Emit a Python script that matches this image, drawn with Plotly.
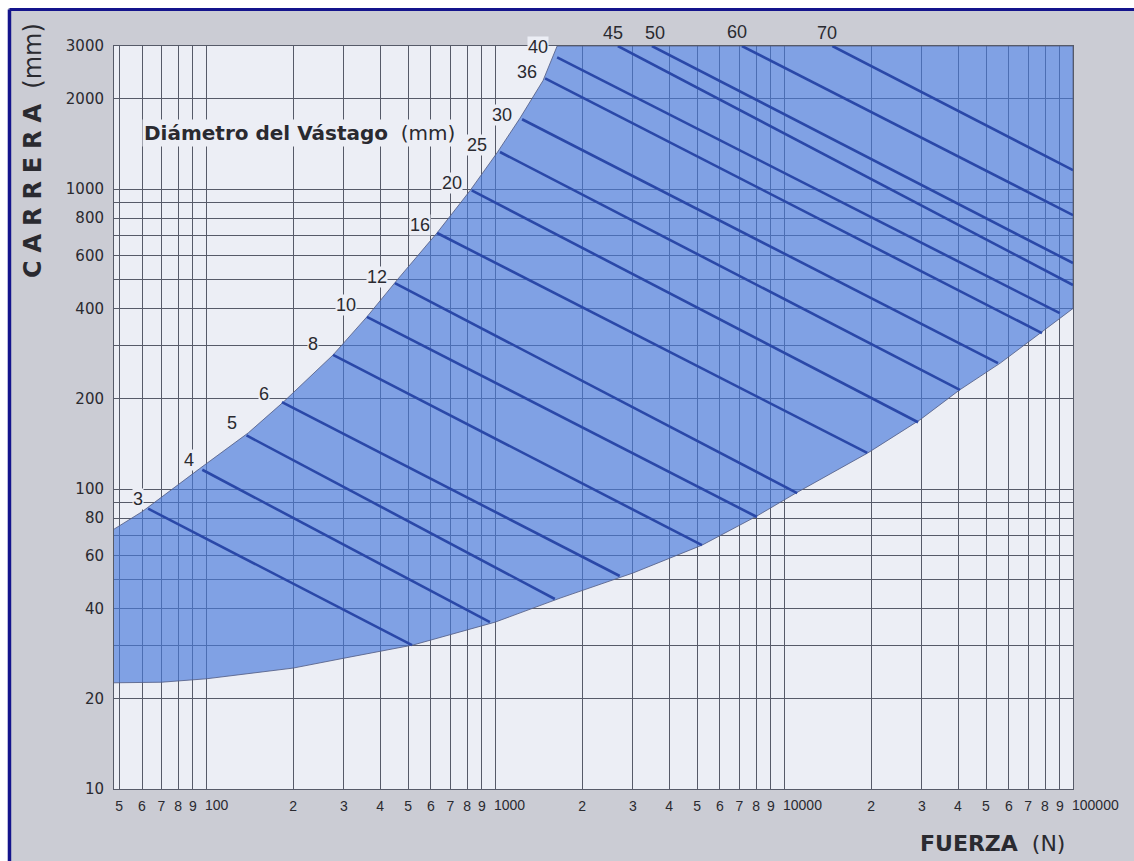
import numpy as np
import plotly.graph_objects as go

# ---- axis limits ----
F_MIN, F_MAX = 48, 100000      # fuerza (N)
L_MIN, L_MAX = 10, 3000        # carrera (mm)

# ---- usable zone: upper (buckling) limit and lower limit ----
upper_F = [48, 60, 95, 140, 185, 275, 360, 460, 630, 820, 1015, 1220, 1465, 1640]
upper_L = [73.5, 84, 117, 154, 195, 280, 375, 500, 715, 990, 1320, 1725, 2300, 3000]

lower_F = [48, 70, 100, 200, 300, 520, 1000, 1680, 3000, 5200, 8000, 11000,
           19500, 29500, 40500, 56000, 77000, 100000]
lower_L = [22.6, 22.7, 23.3, 25.3, 27.3, 30.2, 36, 43.3, 52.5, 65, 81, 97,
           132, 170, 214, 263, 331, 400]

# ---- rod diameters (mm) and the end points of each line ----
diametros = [3, 4, 5, 6, 8, 10, 12, 16, 20, 25, 30, 36, 40, 45, 50, 60, 70]
F_ini = [63, 97, 138, 183, 275, 360, 450, 630, 830, 1040, 1240, 1490, 1640,
         2660, 3490, 7150, 14700]
L_ini = [86, 116, 151, 195, 280, 375, 486, 714, 990, 1330, 1710, 2340, 2750,
         3000, 3000, 3000, 3000]
F_fin = [516, 960, 1610, 2700, 5200, 8060, 11100, 19400, 29100, 40600, 55000,
         78100, 90000, 100000, 100000, 100000, 100000]
L_fin = [30.2, 36, 43, 51.3, 65, 80.7, 97, 132, 167, 214, 263, 331, 386,
         479, 567, 819, 1157]

# ---- ticks ----
x_tick_vals = [50, 60, 70, 80, 90, 100, 200, 300, 400, 500, 600, 700, 800, 900,
               1000, 2000, 3000, 4000, 5000, 6000, 7000, 8000, 9000,
               10000, 20000, 30000, 40000, 50000, 60000, 70000, 80000, 90000,
               100000]
x_tick_text = ["5", "6", "7", "8", "9", "100", "2", "3", "4", "5", "6", "7", "8", "9",
               "1000", "2", "3", "4", "5", "6", "7", "8", "9",
               "10000", "2", "3", "4", "5", "6", "7", "8", "9",
               "100000"]
y_tick_vals = [10, 20, 30, 40, 50, 60, 70, 80, 90, 100, 200, 300, 400, 500, 600,
               700, 800, 900, 1000, 2000, 3000]
y_tick_text = ["10", "20", "", "40", "", "60", "", "80", "", "100", "200", "",
               "400", "", "600", "", "800", "", "1000", "2000", "3000"]

# label offsets in pixels (right, up) from the start of each line
label_shift = [(-10, 10), (-13, 10), (-15, 12), (-18, 8), (-20, 11), (-21, 12),
               (-18, 6), (-17, 8), (-20, 7), (-23, 7), (-20, 4), (-18, 6),
               (-19, 10), (-5, 13), (3, 13), (-5, 14), (-5, 13)]

# ---- styling ----
PAGE = "#cbccd4"
PLOT_BG = "#eceef5"
FILL = "rgba(72,122,218,0.66)"
ROD = "#2a48a8"
GRID = "#565a68"
TEXT = "#2a2a30"
NAVY = "#14148c"
TICK_FONT = dict(family="Liberation Sans, Arial, sans-serif", size=14, color=TEXT)

# single digits sit centred on their grid line; the decade numbers start at it
is_decade = [len(t) >= 3 for t in x_tick_text]
x_tick_axis = ["" if dec else t for t, dec in zip(x_tick_text, is_decade)]

fig = go.Figure()

# shaded working zone
zone_F = upper_F + [F_MAX] + lower_F[::-1]
zone_L = upper_L + [L_MAX] + lower_L[::-1]
fig.add_trace(go.Scatter(
    x=zone_F, y=zone_L, mode="lines", fill="toself", fillcolor=FILL,
    line=dict(color="rgba(85,95,135,0.85)", width=1),
    hoverinfo="skip", showlegend=False))

# one line per rod diameter
xs, ys = [], []
for f0, l0, f1, l1 in zip(F_ini, L_ini, F_fin, L_fin):
    xs += [f0, f1, None]
    ys += [l0, l1, None]
fig.add_trace(go.Scatter(
    x=xs, y=ys, mode="lines", line=dict(color=ROD, width=2.6),
    hoverinfo="skip", showlegend=False))

annotations = []
for d, f0, l0, (dx, dy) in zip(diametros, F_ini, L_ini, label_shift):
    on_curve = l0 < L_MAX
    annotations.append(dict(
        x=np.log10(f0), y=np.log10(l0), xref="x", yref="y",
        text=str(d), showarrow=False, xshift=dx, yshift=dy,
        xanchor="center", yanchor="middle",
        bgcolor=PLOT_BG if on_curve else "rgba(0,0,0,0)", borderpad=0,
        font=dict(family="Liberation Sans, Arial, sans-serif", size=18, color=TEXT)))

# decade labels of the force axis
for v, t, dec in zip(x_tick_vals, x_tick_text, is_decade):
    if dec:
        annotations.append(dict(
            x=np.log10(v), y=-0.0215, xref="x", yref="paper", text=t,
            showarrow=False, xanchor="left", yanchor="middle", xshift=-3,
            font=TICK_FONT))

annotations += [
    dict(x=0.029, y=0.883, xref="paper", yref="paper", xanchor="left", yanchor="middle",
         text="<b>Diámetro del Vástago</b>  (mm)", showarrow=False,
         bgcolor=PLOT_BG, borderpad=1,
         font=dict(family="DejaVu Sans, sans-serif", size=20, color=TEXT)),
    dict(x=-0.0845, y=0.86, xref="paper", yref="paper", xanchor="center", yanchor="middle",
         text="<b>" + "\u2004".join("CARRERA") + "</b>  (mm)", textangle=-90,
         showarrow=False,
         font=dict(family="DejaVu Sans, sans-serif", size=24, color=TEXT)),
    dict(x=0.9937, y=-0.074, xref="paper", yref="paper", xanchor="right", yanchor="middle",
         text="<b>FUERZA</b>  (N)", showarrow=False,
         font=dict(family="DejaVu Sans, sans-serif", size=22, color=TEXT)),
]

# page frame: white margin with dark blue border on the left and top
shapes = [
    dict(type="rect", xref="paper", yref="paper", x0=-0.3, x1=-0.1105, y0=-0.3, y1=1.3,
         fillcolor="white", line=dict(width=0), layer="below"),
    dict(type="rect", xref="paper", yref="paper", x0=-0.3, x1=1.3, y0=1.0511, y1=1.3,
         fillcolor="white", line=dict(width=0), layer="below"),
    dict(type="line", xref="paper", yref="paper", x0=-0.109, x1=-0.109, y0=-0.3, y1=1.0491,
         line=dict(color=NAVY, width=3.5)),
    dict(type="line", xref="paper", yref="paper", x0=-0.109, x1=1.3, y0=1.0491, y1=1.0491,
         line=dict(color=NAVY, width=3)),
]

fig.update_layout(
    width=1134, height=861,
    margin=dict(l=114, r=61, t=46, b=72),
    paper_bgcolor=PAGE, plot_bgcolor=PLOT_BG,
    showlegend=False,
    annotations=annotations, shapes=shapes,
    xaxis=dict(
        type="log", range=[np.log10(F_MIN), np.log10(F_MAX) + 1e-6],
        tickmode="array", tickvals=x_tick_vals, ticktext=x_tick_axis, tickangle=0,
        showgrid=True, gridcolor=GRID, gridwidth=1,
        showline=True, linecolor=GRID, linewidth=1, mirror=True,
        ticks="", ticklabelstandoff=4, zeroline=False,
        tickfont=TICK_FONT),
    yaxis=dict(
        type="log", range=[np.log10(L_MIN), np.log10(L_MAX) + 1e-4],
        tickmode="array", tickvals=y_tick_vals, ticktext=y_tick_text,
        showgrid=True, gridcolor=GRID, gridwidth=1,
        showline=True, linecolor=GRID, linewidth=1, mirror=True,
        ticks="", ticklabelstandoff=6, zeroline=False,
        tickfont=dict(family="DejaVu Sans, sans-serif", size=15, color=TEXT)),
)

fig.write_html("out.html")
